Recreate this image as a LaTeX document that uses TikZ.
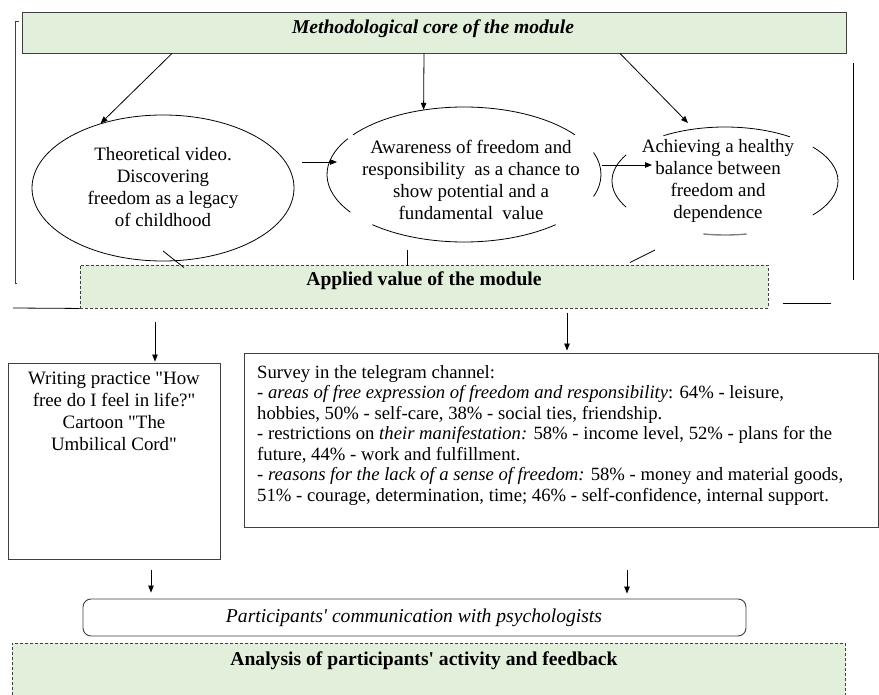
\documentclass[tikz,border=0pt]{standalone}
\usepackage{fontspec}
\setmainfont{Liberation Serif}[Ligatures=TeXOff]
\usetikzlibrary{arrows.meta,shapes.geometric,calc}
\definecolor{panelgreen}{RGB}{226,239,218}
\definecolor{edgegray}{RGB}{64,64,64}
% arc of an ellipse node: node, start angle, end angle, x radius, y radius
\newcommand\ovalarc[6][]{\draw[rim,#1] ([shift={(#3:#5pt and #6pt)}]#2.center) arc[start angle=#3, end angle=#4, x radius=#5pt, y radius=#6pt];}
\begin{document}
\begin{tikzpicture}[x=1pt,y=1pt,
  txt/.style={inner sep=0pt, align=center, font=\fontsize{18.9}{22}\selectfont},
  headtxt/.style={inner sep=0pt, align=center, font=\fontsize{19.6}{22}\selectfont},
  arr/.style={-{Triangle[length=7pt,width=5.5pt]}, line width=0.8pt},
  rim/.style={line width=0.8pt},
  line/.style={line width=0.8pt},
  greenbox/.style={draw=edgegray, fill=panelgreen, line width=0.9pt, inner sep=0pt},
  dashbox/.style={greenbox, dash pattern=on 3pt off 2pt},
  plainbox/.style={draw=edgegray, line width=0.9pt, inner sep=0pt},
  oval/.style={ellipse, inner sep=0pt},
]
\clip (0,0) rectangle (879,-695);
\fill[white] (0,0) rectangle (879,-695);

% ---- top level: methodological core
\node[greenbox, minimum width=824pt, minimum height=41pt] (core) at (434,-32.5) {};
\node[headtxt] (coretxt) at (433,-29) {\textbf{\textit{Methodological core of the module}}};

% ---- the three stages
\node[oval, draw, rim, minimum width=262pt, minimum height=146pt] (theory) at (163,-188) {};
\node[txt] (theorytxt) at (163,-187) {Theoretical video.\\Discovering\\freedom as a legacy\\of childhood};

\node[oval, minimum width=274pt, minimum height=135pt] (aware) at (464,-174.5) {};
\node[txt] (awaretxt) at (471,-180) {Awareness of freedom and\\responsibility\ \ as a chance to\\show potential and a\\fundamental\ \ value};

\node[oval, minimum width=226pt, minimum height=108pt] (balance) at (725,-181) {};
\node[txt] (balancetxt) at (718,-181) {Achieving a healthy\\balance between\\freedom and\\dependence};

% broken outlines of the second and third ovals
\ovalarc{aware}{36}{144}{137}{67.5}
\ovalarc{aware}{148}{214}{137}{67.5}
\ovalarc{aware}{228}{312}{137}{67.5}
\ovalarc{aware}{-19}{19}{137}{67.5}
\ovalarc{balance}{55}{123}{113}{54}
\ovalarc{balance}{151}{209}{113}{54}
\ovalarc[line width=1.4pt, draw=gray]{balance}{259}{281}{113}{54}
\ovalarc{balance}{-39}{39}{113}{54}

% ---- applied value
\node[dashbox, minimum width=688pt, minimum height=43pt] (applied) at (424,-286.5) {};
\node[headtxt] (appliedtxt) at (424,-281) {\textbf{Applied value of the module}};

% core -> stages
\draw[arr] ([xshift=-262pt]core.south) -- (theory.134);
\draw[arr] ([xshift=-10pt]core.south) -- (aware.122);
\draw[arr] ([xshift=186pt]core.south) -- ([shift={(-37pt,58pt)}]balance.center);

% stage -> stage
\draw[arr] ([shift={(139pt,26pt)}]theory.center) -- ([shift={(-127pt,12.5pt)}]aware.center);
\draw[arr] ([shift={(138pt,9.5pt)}]aware.center) -- ([shift={(-73pt,16pt)}]balance.center);

% stages -> applied value
\draw[line] ([shift={(0pt,-63pt)}]theory.center) -- ([shift={(-240pt,-3pt)}]applied.north);
\draw[line] ([shift={(-57pt,-75.5pt)}]aware.center) -- ([shift={(-17pt,-1pt)}]applied.north);
\draw[line] ([shift={(-70pt,-69pt)}]balance.center) -- ([shift={(206pt,2pt)}]applied.north);

% side brackets
\draw[line, edgegray] (19,-21) -- (15,-21) -- (15,-283) -- (17,-283);
\draw[line] (13,-308) -- (applied.south west);
\draw[line] (853,-63) -- (853,-280);
\draw[line] (783,-303) -- (831,-303);

% ---- practical activities
\node[plainbox, minimum width=212pt, minimum height=196pt] (writing) at (114,-461) {};
\node[txt, anchor=north] (writingtxt) at (114,-372) {Writing practice "How\\free do I feel in life?"\\Cartoon "The\\Umbilical Cord"};

\node[plainbox, minimum width=634pt, minimum height=174pt] (survey) at (561,-440) {};
\node[inner sep=0pt, anchor=north west, align=left, font=\fontsize{18.7}{20.5}\selectfont] (surveytxt) at (257,-365) {Survey in the telegram channel:\\
\textit{- areas of free expression of freedom and responsibility}: 64\% - leisure,\\
hobbies, 50\% - self-care, 38\% - social ties, friendship.\\
- restrictions on \textit{their manifestation:} 58\% - income level, 52\% - plans for the\\
future, 44\% - work and fulfillment.\\
\textit{- reasons for the lack of a sense of freedom:} 58\% - money and material goods,\\
51\% - courage, determination, time; 46\% - self-confidence, internal support.};

\coordinate (aL) at ([xshift=-269pt]applied.south);
\coordinate (aR) at ([xshift=143pt]applied.south);
\draw[arr, shorten <=14pt, shorten >=1pt] (aL) -- (aL |- writing.north);
\draw[arr, shorten <=5pt, shorten >=2pt] (aR) -- (aR |- survey.north);

% ---- communication and analysis
\node[plainbox, rounded corners=8pt, minimum width=663pt, minimum height=37pt] (talk) at (414.5,-617.5) {};
\node[headtxt] (talktxt) at (414,-618) {\textit{Participants' communication with psychologists}};

\node[dashbox, minimum width=833pt, minimum height=80pt, anchor=north west] (analysis) at (12,-643) {};
\node[headtxt] (analysistxt) at (424,-661) {\textbf{Analysis of participants' activity and feedback}};

\coordinate (wB) at ([xshift=37pt]writing.south);
\coordinate (sB) at ([xshift=66pt]survey.south);
\draw[arr, shorten <=11pt, shorten >=6pt] (wB) -- (wB |- talk.north);
\draw[arr, shorten <=43pt, shorten >=5pt] (sB) -- (sB |- talk.north);
\end{tikzpicture}
\end{document}
